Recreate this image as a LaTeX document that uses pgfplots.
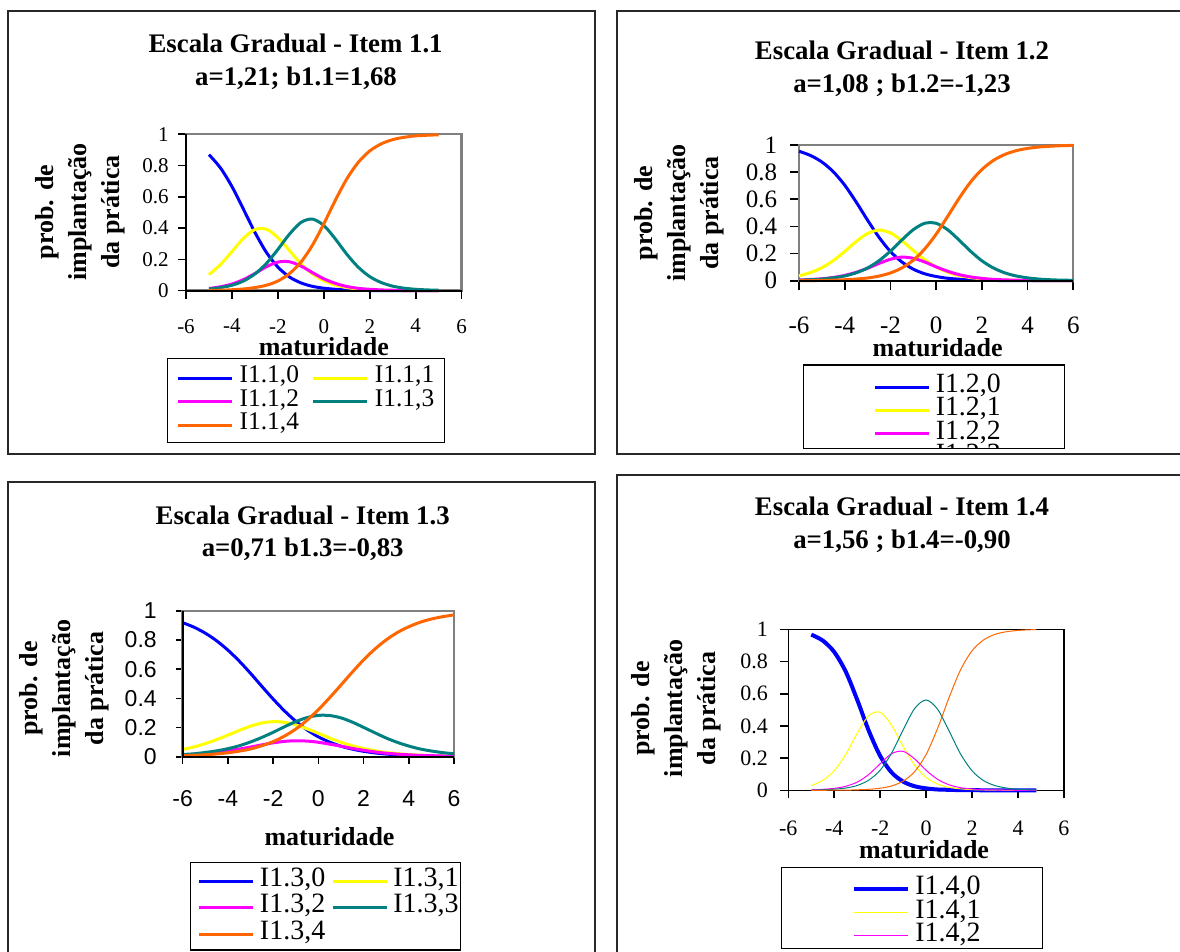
\documentclass[border=0pt]{standalone}
\usepackage{pgfplots}
\pgfplotsset{compat=1.18}
\usepackage{pgfplotstable}
\usepackage{fontspec}
\setmainfont{Liberation Serif}
\newfontfamily\arial{Liberation Sans}

\definecolor{cBlue}{RGB}{0,0,255}
\definecolor{cYel}{RGB}{255,255,0}
\definecolor{cMag}{RGB}{255,0,255}
\definecolor{cTeal}{RGB}{0,128,128}
\definecolor{cOra}{RGB}{255,102,0}
\definecolor{boxgray}{RGB}{128,128,128}
\definecolor{frame}{RGB}{40,40,40}

% item 1.1: theta, P0..P4
\pgfplotstableread{
t a b c d e
-5 0.870 0.103 0.014 0.011 0.002
-4.5 0.785 0.167 0.025 0.020 0.003
-4 0.666 0.250 0.043 0.035 0.006
-3.5 0.521 0.335 0.071 0.062 0.011
-3 0.373 0.391 0.110 0.107 0.020
-2.5 0.245 0.393 0.153 0.174 0.035
-2 0.151 0.340 0.183 0.264 0.062
-1.5 0.088 0.257 0.185 0.361 0.109
-1 0.050 0.173 0.158 0.436 0.182
-0.5 0.028 0.108 0.116 0.458 0.290
0 0.016 0.064 0.076 0.417 0.428
0.5 0.009 0.036 0.047 0.331 0.578
1 0.005 0.020 0.027 0.233 0.715
1.5 0.003 0.011 0.015 0.150 0.821
2 0.001 0.006 0.009 0.090 0.894
2.5 0.001 0.003 0.005 0.052 0.939
3 0.000 0.002 0.003 0.029 0.966
3.5 0.000 0.001 0.001 0.016 0.981
4 0.000 0.001 0.001 0.009 0.990
4.5 0.000 0.000 0.000 0.005 0.994
5 0.000 0.000 0.000 0.003 0.997
}\itemA

% item 1.2
\pgfplotstableread{
t a b c d e
-6 0.954 0.036 0.005 0.004 0.001
-5.5 0.923 0.060 0.009 0.007 0.001
-5 0.875 0.096 0.014 0.012 0.002
-4.5 0.803 0.148 0.024 0.021 0.004
-4 0.704 0.216 0.039 0.035 0.007
-3.5 0.580 0.289 0.062 0.058 0.012
-3 0.446 0.348 0.092 0.094 0.020
-2.5 0.320 0.373 0.127 0.147 0.034
-2 0.215 0.352 0.158 0.218 0.057
-1.5 0.138 0.295 0.174 0.300 0.094
-1 0.085 0.223 0.165 0.376 0.151
-0.5 0.051 0.155 0.138 0.423 0.234
0 0.031 0.101 0.102 0.423 0.343
0.5 0.018 0.063 0.070 0.376 0.473
1 0.011 0.038 0.045 0.300 0.606
1.5 0.006 0.023 0.028 0.218 0.726
2 0.004 0.014 0.017 0.147 0.819
2.5 0.002 0.008 0.010 0.094 0.886
3 0.001 0.005 0.006 0.058 0.930
3.5 0.001 0.003 0.004 0.035 0.958
4 0.000 0.002 0.002 0.021 0.975
4.5 0.000 0.001 0.001 0.012 0.985
5 0.000 0.001 0.001 0.007 0.991
5.5 0.000 0.000 0.000 0.004 0.995
6 0.000 0.000 0.000 0.003 0.997
}\itemB

% item 1.3
\pgfplotstableread{
t a b c d e
-6 0.918 0.050 0.011 0.015 0.007
-5.5 0.887 0.067 0.016 0.020 0.010
-5 0.846 0.090 0.022 0.029 0.013
-4.5 0.794 0.117 0.030 0.040 0.019
-4 0.730 0.148 0.040 0.055 0.027
-3.5 0.655 0.180 0.052 0.075 0.038
-3 0.571 0.209 0.066 0.101 0.053
-2.5 0.482 0.231 0.081 0.132 0.075
-2 0.395 0.240 0.095 0.167 0.103
-1.5 0.314 0.236 0.105 0.205 0.141
-1 0.243 0.218 0.109 0.240 0.189
-0.5 0.184 0.191 0.107 0.268 0.250
0 0.136 0.160 0.099 0.283 0.322
0.5 0.100 0.128 0.086 0.282 0.404
1 0.072 0.099 0.072 0.266 0.491
1.5 0.052 0.075 0.057 0.237 0.579
2 0.037 0.056 0.044 0.201 0.663
2.5 0.026 0.041 0.033 0.164 0.737
3 0.018 0.029 0.024 0.128 0.800
3.5 0.013 0.021 0.018 0.098 0.851
4 0.009 0.015 0.013 0.073 0.890
4.5 0.006 0.011 0.009 0.053 0.921
5 0.005 0.007 0.007 0.039 0.943
5.5 0.003 0.005 0.005 0.028 0.959
6 0.002 0.004 0.003 0.020 0.971
}\itemC

% item 1.4
\pgfplotstableread{
t a b c d e
-5 0.967 0.029 0.003 0.001 0.000
-4.5 0.930 0.061 0.006 0.003 0.000
-4 0.859 0.122 0.012 0.007 0.001
-3.5 0.737 0.223 0.025 0.014 0.001
-3 0.562 0.354 0.051 0.030 0.003
-2.5 0.371 0.463 0.098 0.063 0.006
-2 0.213 0.485 0.165 0.125 0.013
-1.5 0.110 0.403 0.228 0.232 0.027
-1 0.054 0.272 0.242 0.375 0.057
-0.5 0.025 0.156 0.195 0.508 0.116
0 0.012 0.080 0.124 0.561 0.223
0.5 0.005 0.039 0.068 0.503 0.385
1 0.003 0.018 0.034 0.368 0.577
1.5 0.001 0.009 0.016 0.225 0.749
2 0.001 0.004 0.008 0.121 0.867
2.5 0.000 0.002 0.004 0.060 0.934
3 0.000 0.001 0.002 0.029 0.969
3.5 0.000 0.000 0.001 0.014 0.985
4 0.000 0.000 0.000 0.006 0.993
4.5 0.000 0.000 0.000 0.003 0.997
4.8 0.000 0.000 0.000 0.002 0.998
}\itemD

\pgfplotsset{
  irt/.style={
    scale only axis, anchor=south west,
    xmin=-6, xmax=6, ymin=0, ymax=1,
    xtick={-6,-4,-2,0,2,4,6}, xticklabels={-6,-4,-2,0,2,4,6},
    ytick={0,0.2,0.4,0.6,0.8,1}, yticklabels={0,0.2,0.4,0.6,0.8,1},
    tick pos=left, tick align=outside, major tick length=4pt,
    clip=false,
    xticklabel style={anchor=north, inner sep=0pt},
    yticklabel style={anchor=east, inner sep=0pt},
    axis line style={draw=boxgray, line width=1.2pt},
    major tick style={black, line width=0.8pt},
    legend cell align=left,
    legend image code/.code={\draw[##1] (0pt,0pt) -- (27pt,0pt);},
    legend style={draw=none, fill=none, inner sep=0pt, outer sep=0pt, anchor=north west},
  },
}
\tikzset{
  ttl/.style={font=\bfseries\fontsize{13.4}{16}\selectfont},
  ylab/.style={rotate=90, align=center, font=\bfseries\fontsize{13}{16.5}\selectfont},
  xlab/.style={font=\bfseries\fontsize{13}{15}\selectfont},
}

\begin{document}
\begin{tikzpicture}
\clip (0pt,0pt) rectangle (590pt,-476pt);

% ---------- Item 1.1
\begin{axis}[irt, at={(93pt,-145.35pt)}, width=137.85pt, height=78.2pt,
  ticklabel style={font=\fontsize{10.5}{12}\selectfont},
  xticklabel shift=10pt, yticklabel shift=4.5pt,
  legend columns=2,
  legend style={at={(-0.0337,-0.4831)},
    nodes={font=\fontsize{12.7}{14}\selectfont, inner sep=0pt, text height=8.2pt, text depth=3.55pt},
    /tikz/column 1/.style={column sep=3pt}, /tikz/column 2/.style={column sep=6.5pt},
    /tikz/column 3/.style={column sep=3pt}}]
\addplot[cBlue, line width=1.5pt, smooth] table[x=t, y=a] {\itemA}; \addlegendentry{I1.1,0}
\addplot[cYel, line width=1.5pt, smooth] table[x=t, y=b] {\itemA}; \addlegendentry{I1.1,1}
\addplot[cMag, line width=1.5pt, smooth] table[x=t, y=c] {\itemA}; \addlegendentry{I1.1,2}
\addplot[cTeal, line width=1.5pt, smooth] table[x=t, y=d] {\itemA}; \addlegendentry{I1.1,3}
\addplot[cOra, line width=1.5pt, smooth] table[x=t, y=e] {\itemA}; \addlegendentry{I1.1,4}
\draw[black, line width=1pt] (rel axis cs:0,1) -- (rel axis cs:0,0) -- (rel axis cs:1,0);
\end{axis}

% ---------- Item 1.2
\begin{axis}[irt, at={(399.5pt,-140.35pt)}, width=137.15pt, height=67.85pt,
  ticklabel style={font=\fontsize{12.5}{14}\selectfont},
  major tick length=4.5pt,
  xticklabel shift=13.4pt, yticklabel shift=6.2pt,
  legend columns=1,
  legend style={at={(0.2734,-0.6975)},
    nodes={font=\fontsize{13.9}{15}\selectfont, inner sep=0pt, text height=8.6pt, text depth=3.05pt},
    /tikz/column 1/.style={column sep=2.4pt}}]
\addplot[cBlue, line width=1.5pt, smooth] table[x=t, y=a] {\itemB}; \addlegendentry{I1.2,0}
\addplot[cYel, line width=1.5pt, smooth] table[x=t, y=b] {\itemB}; \addlegendentry{I1.2,1}
\addplot[cMag, line width=1.5pt, smooth] table[x=t, y=c] {\itemB}; \addlegendentry{I1.2,2}
\addplot[cTeal, line width=1.5pt, smooth] table[x=t, y=d] {\itemB}; \addlegendentry{I1.2,3}
\addplot[cOra, line width=1.5pt, smooth] table[x=t, y=e] {\itemB};
\draw[black, line width=1pt] (rel axis cs:0,0) -- (rel axis cs:1,0);
\end{axis}

% ---------- Item 1.3
\begin{axis}[irt, at={(91.35pt,-378.35pt)}, width=135.65pt, height=73pt,
  ticklabel style={font=\arial\fontsize{11.5}{13}\selectfont},
  major tick length=3.5pt,
  xticklabel shift=13.2pt, yticklabel shift=9.3pt,
  legend columns=2,
  legend style={at={(0.0564,-0.762)},
    nodes={font=\fontsize{14}{15}\selectfont, inner sep=0pt, text height=9.2pt, text depth=4.1pt},
    /tikz/column 1/.style={column sep=2.5pt}, /tikz/column 2/.style={column sep=3pt},
    /tikz/column 3/.style={column sep=2.5pt}}]
\addplot[cBlue, line width=1.5pt, smooth] table[x=t, y=a] {\itemC}; \addlegendentry{I1.3,0}
\addplot[cYel, line width=1.5pt, smooth] table[x=t, y=b] {\itemC}; \addlegendentry{I1.3,1}
\addplot[cMag, line width=1.5pt, smooth] table[x=t, y=c] {\itemC}; \addlegendentry{I1.3,2}
\addplot[cTeal, line width=1.5pt, smooth] table[x=t, y=d] {\itemC}; \addlegendentry{I1.3,3}
\addplot[cOra, line width=1.5pt, smooth] table[x=t, y=e] {\itemC}; \addlegendentry{I1.3,4}
\draw[black, line width=1pt] (rel axis cs:0,1) -- (rel axis cs:0,0) -- (rel axis cs:1,0);
\end{axis}

% ---------- Item 1.4
\begin{axis}[irt, at={(394.15pt,-395.15pt)}, width=137.85pt, height=80.5pt,
  axis line style={draw=black, line width=0.8pt},
  ticklabel style={font=\fontsize{11}{13}\selectfont},
  xticklabel shift=11.2pt, yticklabel shift=6pt,
  legend columns=1,
  legend style={at={(0.2321,-0.542)},
    nodes={font=\fontsize{14}{15}\selectfont, inner sep=0pt, text height=8.6pt, text depth=3.05pt},
    /tikz/column 1/.style={column sep=2.5pt}}]
\addplot[cBlue, line width=2pt, smooth] table[x=t, y=a] {\itemD}; \addlegendentry{I1.4,0}
\addplot[cYel, line width=0.5pt, smooth] table[x=t, y=b] {\itemD}; \addlegendentry{I1.4,1}
\addplot[cMag, line width=0.5pt, smooth] table[x=t, y=c] {\itemD}; \addlegendentry{I1.4,2}
\addplot[cTeal, line width=0.5pt, smooth] table[x=t, y=d] {\itemD};
\addplot[cOra, line width=0.5pt, smooth] table[x=t, y=e] {\itemD};
\end{axis}

% legend of item 1.2 is cut off by its box
\fill[white] (400pt,-224.4pt) rectangle (533pt,-236pt);

% panel frames
\draw[frame, line width=1pt] (4.15pt,-5.5pt) rectangle (297.5pt,-227pt);
\draw[frame, line width=1pt] (308.35pt,-5.5pt) rectangle (600pt,-227pt);
\draw[frame, line width=1pt] (4.15pt,-240.85pt) rectangle (297.5pt,-490pt);
\draw[frame, line width=1pt] (308.5pt,-237.5pt) rectangle (600pt,-490pt);

% legend boxes
\draw[black, line width=0.6pt] (83.65pt,-179.15pt) rectangle (222.35pt,-221.35pt);
\draw[black, line width=0.6pt] (401.65pt,-182.5pt) rectangle (532.15pt,-224.15pt);
\draw[black, line width=0.6pt] (95.35pt,-431.35pt) rectangle (230.35pt,-475pt);
\draw[black, line width=0.6pt] (390.85pt,-433.65pt) rectangle (521.35pt,-474.15pt);

% titles
\node[ttl] at (147.8pt,-21.65pt) {Escala Gradual - Item 1.1};
\node[ttl] at (148pt,-39.15pt) {a=1,21; b1.1=1,68};
\node[ttl] at (451pt,-25pt) {Escala Gradual - Item 1.2};
\node[ttl] at (451pt,-42.5pt) {a=1,08 ; b1.2=-1,23};
\node[ttl] at (151.35pt,-257.5pt) {Escala Gradual - Item 1.3};
\node[ttl] at (151.35pt,-274.65pt) {a=0,71 b1.3=-0,83};
\node[ttl] at (451pt,-253.35pt) {Escala Gradual - Item 1.4};
\node[ttl] at (451pt,-270.85pt) {a=1,56 ; b1.4=-0,90};

% axis titles
\node[ylab] at (40.2pt,-106pt) {prob. de\\implantação\\da prática};
\node[ylab] at (339.75pt,-106.5pt) {prob. de\\implantação\\da prática};
\node[ylab] at (32.15pt,-344.25pt) {prob. de\\implantação\\da prática};
\node[ylab] at (337.9pt,-354.25pt) {prob. de\\implantação\\da prática};
\node[xlab] at (161.9pt,-173.35pt) {maturidade};
\node[xlab] at (468.85pt,-174pt) {maturidade};
\node[xlab] at (164.75pt,-418.35pt) {maturidade};
\node[xlab] at (462pt,-425pt) {maturidade};
\end{tikzpicture}
\end{document}
